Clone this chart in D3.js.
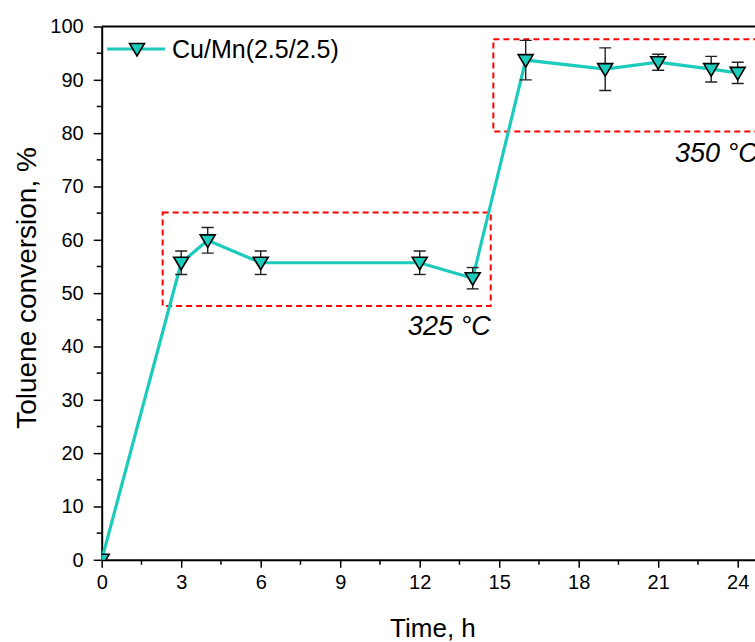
<!DOCTYPE html>
<html>
<head>
<meta charset="utf-8">
<script src="https://cdn.jsdelivr.net/npm/d3@7/dist/d3.min.js"></script>
<style>
  html, body { margin: 0; padding: 0; background: #fff; overflow: hidden; }
  svg { display: block; font-family: Arial, "Liberation Sans", sans-serif; }
</style>
</head>
<body>
<svg id="chart" width="755" height="642"></svg>
<script>
// Time on stream (h) and toluene conversion (%) with error margins
const timeH = [0, 3, 4, 6, 12, 14, 16, 19, 21, 23, 24];
const conversion = [0, 55.7, 59.9, 55.7, 55.7, 52.8, 93.7, 92.0, 93.3, 92.0, 91.3];
const errorBar = [0, 2.2, 2.4, 2.2, 2.2, 2.0, 3.7, 4.0, 1.5, 2.4, 2.0];
const seriesName = "Cu/Mn(2.5/2.5)";

// Temperature stages outlined by dashed boxes: [x0, x1, y0, y1]
const stageLabels = ["325 °C", "350 °C"];
const stageBoxes = [[2.3, 14.68, 47.6, 65.1], [14.78, 26, 80.3, 97.6]];

const xTicks = [0, 3, 6, 9, 12, 15, 18, 21, 24];
const yTicks = [0, 10, 20, 30, 40, 50, 60, 70, 80, 90, 100];

const svg = d3.select("#chart");
const plotLeft = 101.7, plotTop = 26.5, plotBottom = 559.8;
const x = d3.scaleLinear().domain([0, 25]).range([plotLeft, plotLeft + 25 * 26.5]);
const y = d3.scaleLinear().domain([0, 100]).range([plotBottom, plotTop]);
const teal = "#1ccbbb";

// Clip to the plotting area
svg.append("defs").append("clipPath").attr("id", "plotClip")
  .append("rect").attr("x", x(0)).attr("y", y(100))
  .attr("width", x(25) - x(0)).attr("height", y(0) - y(100));

// Axes
const xMinor = d3.range(0, 25.01, 1.5).filter(v => !xTicks.includes(v));
const yMinor = d3.range(5, 100, 10);

const xAxis = svg.append("g").attr("transform", `translate(0,${y(0)})`)
  .call(d3.axisBottom(x).tickValues(xTicks).tickSize(8).tickPadding(7).tickSizeOuter(0));
xAxis.append("g").selectAll("line").data(xMinor).join("line")
  .attr("x1", d => x(d)).attr("x2", d => x(d)).attr("y1", 0).attr("y2", 5)
  .attr("stroke", "#000").attr("stroke-width", 1.5);

const yAxis = svg.append("g").attr("transform", `translate(${x(0)},0)`)
  .call(d3.axisLeft(y).tickValues(yTicks).tickSize(8).tickPadding(10).tickSizeOuter(0));
yAxis.append("g").selectAll("line").data(yMinor).join("line")
  .attr("y1", d => y(d)).attr("y2", d => y(d)).attr("x1", 0).attr("x2", -5)
  .attr("stroke", "#000").attr("stroke-width", 1.5);

[xAxis, yAxis].forEach(g => {
  g.selectAll(".domain").attr("stroke", "#000").attr("stroke-width", 2);
  g.selectAll(".tick line").attr("stroke", "#000").attr("stroke-width", 1.5);
  g.selectAll(".tick text").attr("fill", "#000").attr("font-size", 20)
    .attr("font-family", "Arial, 'Liberation Sans', sans-serif");
});

// Top frame line
svg.append("line").attr("x1", x(0)).attr("x2", x(25)).attr("y1", y(100)).attr("y2", y(100))
  .attr("stroke", "#000").attr("stroke-width", 2);

// Axis titles
svg.append("text").attr("x", (x(0) + x(25)) / 2).attr("y", 637)
  .attr("text-anchor", "middle").attr("font-size", 26).text("Time, h");
svg.append("text").attr("transform", "translate(36,288) rotate(-90)")
  .attr("text-anchor", "middle").attr("font-size", 28).text("Toluene conversion, %");

const plot = svg.append("g").attr("clip-path", "url(#plotClip)");

// Stage boxes
plot.selectAll("rect.stage").data(stageBoxes).join("rect").attr("class", "stage")
  .attr("x", d => x(d[0])).attr("y", d => y(d[3]))
  .attr("width", d => x(d[1]) - x(d[0])).attr("height", d => y(d[2]) - y(d[3]))
  .attr("fill", "none").attr("stroke", "#ff0000").attr("stroke-width", 2)
  .attr("stroke-dasharray", "6,4");

// Stage labels
svg.append("text").attr("x", x(stageBoxes[0][1])).attr("y", 335)
  .attr("text-anchor", "end").attr("font-size", 27).attr("font-style", "italic")
  .text(stageLabels[0]);
svg.append("text").attr("x", 675).attr("y", 162)
  .attr("text-anchor", "start").attr("font-size", 27).attr("font-style", "italic")
  .text(stageLabels[1]);

const pts = timeH.map((t, i) => ({ t, v: conversion[i], e: errorBar[i] }));

// Connecting line
plot.append("path").datum(pts)
  .attr("d", d3.line().x(d => x(d.t)).y(d => y(d.v)))
  .attr("fill", "none").attr("stroke", teal).attr("stroke-width", 3.2);

// Error bars
const eb = plot.selectAll("g.err").data(pts.filter(d => d.e > 0)).join("g").attr("class", "err")
  .attr("stroke", "#222").attr("stroke-width", 1.4);
eb.append("line").attr("x1", d => x(d.t)).attr("x2", d => x(d.t))
  .attr("y1", d => y(d.v + d.e)).attr("y2", d => y(d.v - d.e));
eb.append("line").attr("x1", d => x(d.t) - 6).attr("x2", d => x(d.t) + 6)
  .attr("y1", d => y(d.v + d.e)).attr("y2", d => y(d.v + d.e));
eb.append("line").attr("x1", d => x(d.t) - 6).attr("x2", d => x(d.t) + 6)
  .attr("y1", d => y(d.v - d.e)).attr("y2", d => y(d.v - d.e));

// Down-pointing triangle markers
const tri = "M-7.5,-5.5 L7.5,-5.5 L0,7 Z";
plot.selectAll("path.mk").data(pts).join("path").attr("class", "mk")
  .attr("d", tri).attr("transform", d => `translate(${x(d.t)},${y(d.v)})`)
  .attr("fill", teal).attr("stroke", "#000").attr("stroke-width", 1.6)
  .attr("stroke-linejoin", "miter");

// Legend
const lg = svg.append("g").attr("transform", "translate(107,49)");
lg.append("line").attr("x1", 0).attr("x2", 58).attr("stroke", teal).attr("stroke-width", 3.2);
lg.append("path").attr("d", tri).attr("transform", "translate(30,0)")
  .attr("fill", teal).attr("stroke", "#000").attr("stroke-width", 1.6);
lg.append("text").attr("x", 65).attr("y", 9).attr("font-size", 25).text(seriesName);
</script>
</body>
</html>
